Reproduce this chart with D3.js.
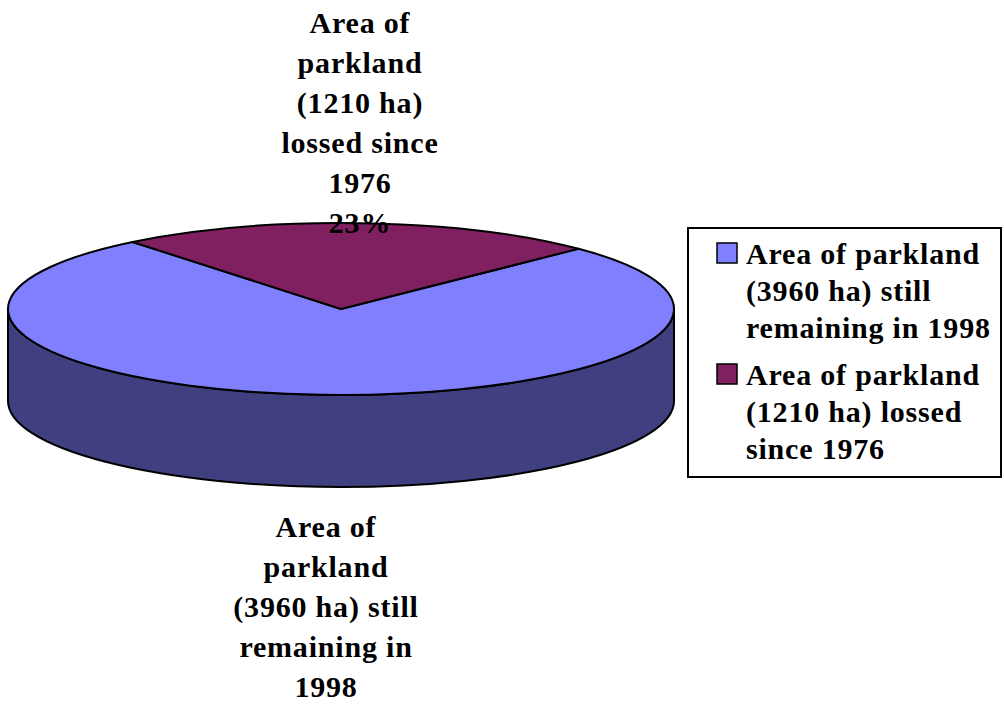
<!DOCTYPE html>
<html>
<head>
<meta charset="utf-8">
<script src="https://cdn.jsdelivr.net/npm/d3@7"></script>
<style>
  body { margin: 0; background: #fff; }
  text { font-family: "Liberation Serif", "Times New Roman", serif; font-weight: bold; font-size: 30px; letter-spacing: 0.8px; fill: #000; }
</style>
</head>
<body>
<script>
// data
var categories = ["Area of parkland (3960 ha) still remaining in 1998",
                  "Area of parkland (1210 ha) lossed since 1976"];
var values = [3960, 1210];
var colors = ["#8080ff", "#802060"];
var sideColors = ["#404080", "#401030"];

// wrapped lines, as in the picture
var labelLines = [["Area of", "parkland", "(3960 ha) still", "remaining in", "1998"],
                  ["Area of", "parkland", "(1210 ha)", "lossed since", "1976"]];
var legendLines = [["Area of parkland", "(3960 ha) still", "remaining in 1998"],
                   ["Area of parkland", "(1210 ha) lossed", "since 1976"]];

var width = 1004, height = 704;
var cx = 341, cy = 309, rx = 333, ry = 86, depth = 92;
var startAngle = 45.5 * Math.PI / 180;

var svg = d3.select("body").append("svg")
  .attr("width", width)
  .attr("height", height);

var total = d3.sum(values);
var pie = d3.pie().sort(null).value(d => d)
  .startAngle(startAngle).endAngle(startAngle + 2 * Math.PI);
var arcs = pie(values);

function pt(a, dy) {
  return [cx + rx * Math.sin(a), cy - ry * Math.cos(a) + (dy || 0)];
}

// side wall, only the front half (pi/2 .. 3pi/2) shows
var side = svg.append("g");
arcs.forEach(function(d, i) {
  // check the slice against the front half, also shifted by a full turn
  [0, 2 * Math.PI].forEach(function(shift) {
    var a0 = Math.max(d.startAngle - shift, Math.PI / 2);
    var a1 = Math.min(d.endAngle - shift, 3 * Math.PI / 2);
    if (a1 <= a0) return;
    var p0 = pt(a0), p1 = pt(a1), q0 = pt(a0, depth), q1 = pt(a1, depth);
    var large = (a1 - a0) > Math.PI ? 1 : 0;
    var path = "M" + p0 + " A" + rx + "," + ry + " 0 " + large + " 1 " + p1 +
      " L" + q1 + " A" + rx + "," + ry + " 0 " + large + " 0 " + q0 + " Z";
    side.append("path")
      .attr("d", path)
      .attr("fill", sideColors[i])
      .attr("stroke", "#000")
      .attr("stroke-width", 2)
      .attr("stroke-linejoin", "round");
  });
});

// top face: a circle squashed into the ellipse
var arc = d3.arc().innerRadius(0).outerRadius(rx);
svg.append("g")
  .attr("transform", "translate(" + cx + "," + cy + ") scale(1," + (ry / rx) + ")")
  .selectAll("path")
  .data(arcs)
  .enter().append("path")
    .attr("d", arc)
    .attr("fill", (d, i) => colors[i])
    .attr("stroke", "#000")
    .attr("stroke-width", 2)
    .attr("stroke-linejoin", "round")
    .attr("vector-effect", "non-scaling-stroke");

// data labels
var lineH = 40;
function label(x, y, lines) {
  var t = svg.append("text").attr("text-anchor", "middle");
  lines.forEach(function(s, k) {
    t.append("tspan").attr("x", x).attr("y", y + k * lineH).text(s);
  });
}
var pct = values.map(v => Math.round(v / total * 100) + "%");
label(360, 33, labelLines[1].concat([pct[1]]));
label(326, 537, labelLines[0]);

// legend
var legend = svg.append("g");
legend.append("rect")
  .attr("x", 688).attr("y", 228)
  .attr("width", 313).attr("height", 249)
  .attr("fill", "#fff")
  .attr("stroke", "#000")
  .attr("stroke-width", 2);

var legendY = d3.scaleBand().domain(d3.range(categories.length)).range([228, 470]);
categories.forEach(function(c, i) {
  var y0 = legendY(i) + 36;
  legend.append("rect")
    .attr("x", 717).attr("y", y0 - 21)
    .attr("width", 20).attr("height", 20)
    .attr("fill", colors[i])
    .attr("stroke", "#000")
    .attr("stroke-width", 1.5);
  var t = legend.append("text");
  legendLines[i].forEach(function(s, k) {
    t.append("tspan").attr("x", 746).attr("y", y0 + k * 37).text(s);
  });
});
</script>
</body>
</html>
